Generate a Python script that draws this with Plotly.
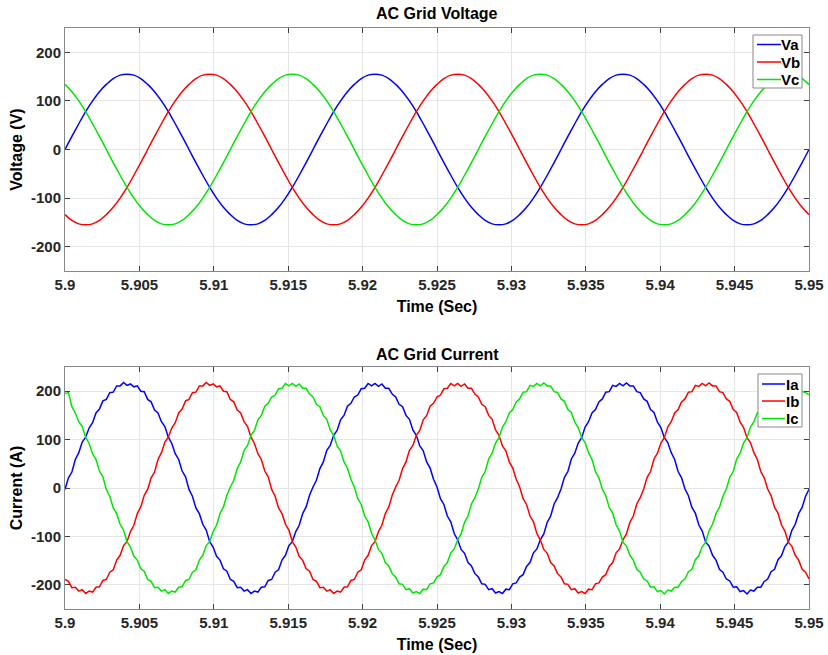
import numpy as np
import plotly.graph_objects as go

t_start, t_end = 5.9, 5.95

# ---- Voltage (V), sampled every 10 electrical degrees ----
Va = [0,27,53,78,100,119,134,146,153,155,153,146,134,119,100,78,53,27,0,-27,-53,-78,-100,-119,-134,-146,-153,-155,-153,-146,-134,-119,-100,-78,-53,-27,
      0,27,53,78,100,119,134,146,153,155,153,146,134,119,100,78,53,27,0,-27,-53,-78,-100,-119,-134,-146,-153,-155,-153,-146,-134,-119,-100,-78,-53,-27,
      0,27,53,78,100,119,134,146,153,155,153,146,134,119,100,78,53,27,0,-27,-53,-78,-100,-119,-134,-146,-153,-155,-153,-146,-134,-119,-100,-78,-53,-27,
      0]
Vb = [-134,-146,-153,-155,-153,-146,-134,-119,-100,-78,-53,-27,
      0,27,53,78,100,119,134,146,153,155,153,146,134,119,100,78,53,27,0,-27,-53,-78,-100,-119,-134,-146,-153,-155,-153,-146,-134,-119,-100,-78,-53,-27,
      0,27,53,78,100,119,134,146,153,155,153,146,134,119,100,78,53,27,0,-27,-53,-78,-100,-119,-134,-146,-153,-155,-153,-146,-134,-119,-100,-78,-53,-27,
      0,27,53,78,100,119,134,146,153,155,153,146,134,119,100,78,53,27,0,-27,-53,-78,-100,-119,-134]
Vc = [134,119,100,78,53,27,0,-27,-53,-78,-100,-119,-134,-146,-153,-155,-153,-146,-134,-119,-100,-78,-53,-27,
      0,27,53,78,100,119,134,146,153,155,153,146,134,119,100,78,53,27,0,-27,-53,-78,-100,-119,-134,-146,-153,-155,-153,-146,-134,-119,-100,-78,-53,-27,
      0,27,53,78,100,119,134,146,153,155,153,146,134,119,100,78,53,27,0,-27,-53,-78,-100,-119,-134,-146,-153,-155,-153,-146,-134,-119,-100,-78,-53,-27,
      0,27,53,78,100,119,134,146,153,155,153,146,134]

# ---- Current (A), sampled every 5 electrical degrees (with switching ripple) ----
Ia = [-3,21,33,59,73,95,105,124,135,155,163,180,
      183,197,198,211,211,218,212,215,209,211,200,199,
      183,178,161,155,137,127,105,92,71,59,35,23,
      -3,-17,-41,-53,-75,-87,-111,-122,-141,-149,-167,-172,
      -189,-193,-206,-205,-213,-210,-218,-213,-215,-205,-204,-191,
      -189,-174,-169,-149,-139,-119,-111,-90,-77,-53,-39,-15,
      2,16,40,54,78,88,109,119,141,150,169,175,
      188,192,205,206,216,211,216,210,215,206,206,194,
      188,173,168,150,142,120,109,87,77,54,41,18,
      2,-22,-34,-58,-70,-94,-107,-127,-135,-154,-161,-177,
      -184,-198,-199,-210,-208,-217,-214,-218,-209,-210,-198,-196,
      -184,-179,-162,-154,-134,-126,-107,-95,-71,-58,-33,-20,
      -2,22,34,60,72,93,104,126,137,155,162,178,
      184,198,199,212,210,216,211,217,211,211,199,197,
      184,179,162,156,136,125,104,94,73,59,34,21,
      -2,-16,-40,-52,-76,-89,-112,-120,-139,-149,-168,-174,
      -188,-192,-205,-204,-214,-212,-219,-211,-213,-205,-205,-193,
      -188,-173,-168,-148,-140,-121,-112,-88,-75,-53,-40,-17,
      -3]
Ib = [-189,-193,-206,-205,-213,-210,-218,-213,-215,-205,-204,-191,
      -189,-174,-169,-149,-139,-119,-111,-90,-77,-53,-39,-15,
      -3,21,33,59,73,95,105,124,135,155,163,180,
      183,197,198,211,211,218,212,215,209,211,200,199,
      183,178,161,155,137,127,105,92,71,59,35,23,
      -3,-17,-41,-53,-75,-87,-111,-122,-141,-149,-167,-172,
      -189,-193,-206,-205,-213,-210,-218,-213,-215,-205,-204,-191,
      -189,-174,-169,-149,-139,-119,-111,-90,-77,-53,-39,-15,
      2,16,40,54,78,88,109,119,141,150,169,175,
      188,192,205,206,216,211,216,210,215,206,206,194,
      188,173,168,150,142,120,109,87,77,54,41,18,
      2,-22,-34,-58,-70,-94,-107,-127,-135,-154,-161,-177,
      -184,-198,-199,-210,-208,-217,-214,-218,-209,-210,-198,-196,
      -184,-179,-162,-154,-134,-126,-107,-95,-71,-58,-33,-20,
      -2,22,34,60,72,93,104,126,137,155,162,178,
      184,198,199,212,210,216,211,217,211,211,199,197,
      184,179,162,156,136,125,104,94,73,59,34,21,
      -2,-16,-40,-52,-76,-89,-112,-120,-139,-149,-168,-174,
      -188]
Ic = [195,197,168,155,137,127,105,92,71,59,35,23,
      -3,-17,-41,-53,-75,-87,-111,-122,-141,-149,-167,-172,
      -189,-193,-206,-205,-213,-210,-218,-213,-215,-205,-204,-191,
      -189,-174,-169,-149,-139,-119,-111,-90,-77,-53,-39,-15,
      2,16,40,54,78,88,109,119,141,150,169,175,
      188,192,205,206,216,211,216,210,215,206,206,194,
      188,173,168,150,142,120,109,87,77,54,41,18,
      2,-22,-34,-58,-70,-94,-107,-127,-135,-154,-161,-177,
      -184,-198,-199,-210,-208,-217,-214,-218,-209,-210,-198,-196,
      -184,-179,-162,-154,-134,-126,-107,-95,-71,-58,-33,-20,
      -2,22,34,60,72,93,104,126,137,155,162,178,
      184,198,199,212,210,216,211,217,211,211,199,197,
      184,179,162,156,136,125,104,94,73,59,34,21,
      -2,-16,-40,-52,-76,-89,-112,-120,-139,-149,-168,-174,
      -188,-192,-205,-204,-214,-212,-219,-211,-213,-205,-205,-193,
      -188,-173,-168,-148,-140,-121,-112,-88,-75,-53,-40,-17,
      -2,22,34,60,72,93,104,126,137,155,162,178,
      184,198,199,212,210,216,211,217,211,211,199,197,
      193]

x_ticks = [5.9, 5.905, 5.91, 5.915, 5.92, 5.925, 5.93, 5.935, 5.94, 5.945, 5.95]
x_ticklabels = ["5.9", "5.905", "5.91", "5.915", "5.92", "5.925", "5.93", "5.935", "5.94", "5.945", "5.95"]
y_ticks = [-200, -100, 0, 100, 200]
y_ticklabels = ["-200", "-100", "0", "100", "200"]
voltage_names = ["Va", "Vb", "Vc"]
current_names = ["Ia", "Ib", "Ic"]
phase_colors = ["#0000ff", "#ff0000", "#00e600"]

tv = np.linspace(t_start, t_end, len(Va))
ti = np.linspace(t_start, t_end, len(Ia))

fig = go.Figure()
for name, y, c in zip(voltage_names, [Va, Vb, Vc], phase_colors):
    fig.add_trace(go.Scatter(x=tv, y=y, name=name, mode="lines", showlegend=False,
                             line=dict(color=c, width=1.5, shape="spline", smoothing=1.0),
                             xaxis="x", yaxis="y"))
for name, y, c in zip(current_names, [Ia, Ib, Ic], phase_colors):
    fig.add_trace(go.Scatter(x=ti, y=y, name=name, mode="lines", showlegend=False,
                             line=dict(color=c, width=1.5),
                             xaxis="x2", yaxis="y2"))

W, H = 828, 655
L, R, T, B = 65, 809, 28, 609          # outer plotting region in pixels
PW, PH = R - L, B - T

def px(xp):
    return (xp - L) / PW

def py(yp):
    return (B - yp) / PH

FONT = "Liberation Sans, Arial, sans-serif"
tickfont = dict(family=FONT, size=15, color="#262626", weight="bold")
titlefont = dict(family=FONT, size=16, color="#000000", weight="bold")
legfont = dict(family=FONT, size=15, color="#000000", weight="bold")

def xaxis(anchor):
    return dict(domain=[0, 1], range=[t_start, t_end], anchor=anchor, automargin=False,
                tickvals=x_ticks, ticktext=x_ticklabels, tickfont=tickfont,
                ticks="inside", ticklen=5, tickcolor="#404040", mirror="ticks",
                showline=True, linecolor="#888888", linewidth=1,
                showgrid=True, gridcolor="#e6e6e6", gridwidth=1, zeroline=False,
                title=dict(text="Time (Sec)", font=titlefont, standoff=8))

def yaxis(anchor, top_px, bot_px, title):
    return dict(domain=[py(bot_px), py(top_px)], range=[-250, 250], anchor=anchor, automargin=False,
                tickvals=y_ticks, ticktext=y_ticklabels, tickfont=tickfont,
                ticks="inside", ticklen=5, tickcolor="#404040", mirror="ticks",
                showline=True, linecolor="#888888", linewidth=1,
                showgrid=True, gridcolor="#e6e6e6", gridwidth=1, zeroline=False,
                title=dict(text=title, font=titlefont, standoff=4))

# Compact MATLAB-style legend boxes
shapes, annotations = [], []
def add_legend(names, box, line_x, rows, text_x):
    x0, y0, x1, y1 = box
    shapes.append(dict(type="rect", xref="paper", yref="paper",
                       x0=px(x0), x1=px(x1), y0=py(y1), y1=py(y0),
                       line=dict(color="#888888", width=1), fillcolor="white", layer="above"))
    for nm, c, ry in zip(names, phase_colors, rows):
        shapes.append(dict(type="line", xref="paper", yref="paper",
                           x0=px(line_x[0]), x1=px(line_x[1]), y0=py(ry), y1=py(ry),
                           line=dict(color=c, width=1.5), layer="above"))
        annotations.append(dict(text=nm, x=px(text_x), y=py(ry), xref="paper", yref="paper",
                                showarrow=False, xanchor="left", yanchor="middle",
                                borderpad=0, font=legfont))

add_legend(voltage_names, (753, 35, 802, 88), (757, 781), (44.5, 62, 79.5), 780)
add_legend(current_names, (758, 374, 802, 427), (762, 785), (384, 401, 418.5), 785)

annotations += [
    dict(text="AC Grid Voltage", x=px(437), y=py(14), xref="paper", yref="paper",
         showarrow=False, font=titlefont, xanchor="center", yanchor="middle"),
    dict(text="AC Grid Current", x=px(437), y=py(354), xref="paper", yref="paper",
         showarrow=False, font=titlefont, xanchor="center", yanchor="middle"),
]

fig.update_layout(
    width=W, height=H, margin=dict(l=L, r=W - R, t=T, b=H - B, autoexpand=False),
    paper_bgcolor="white", plot_bgcolor="white",
    xaxis=xaxis("y"), yaxis=yaxis("x", 28, 271, "Voltage (V)"),
    xaxis2=xaxis("y2"), yaxis2=yaxis("x2", 367, 609, "Current (A)"),
    shapes=shapes, annotations=annotations,
)

fig.write_html("out.html")
